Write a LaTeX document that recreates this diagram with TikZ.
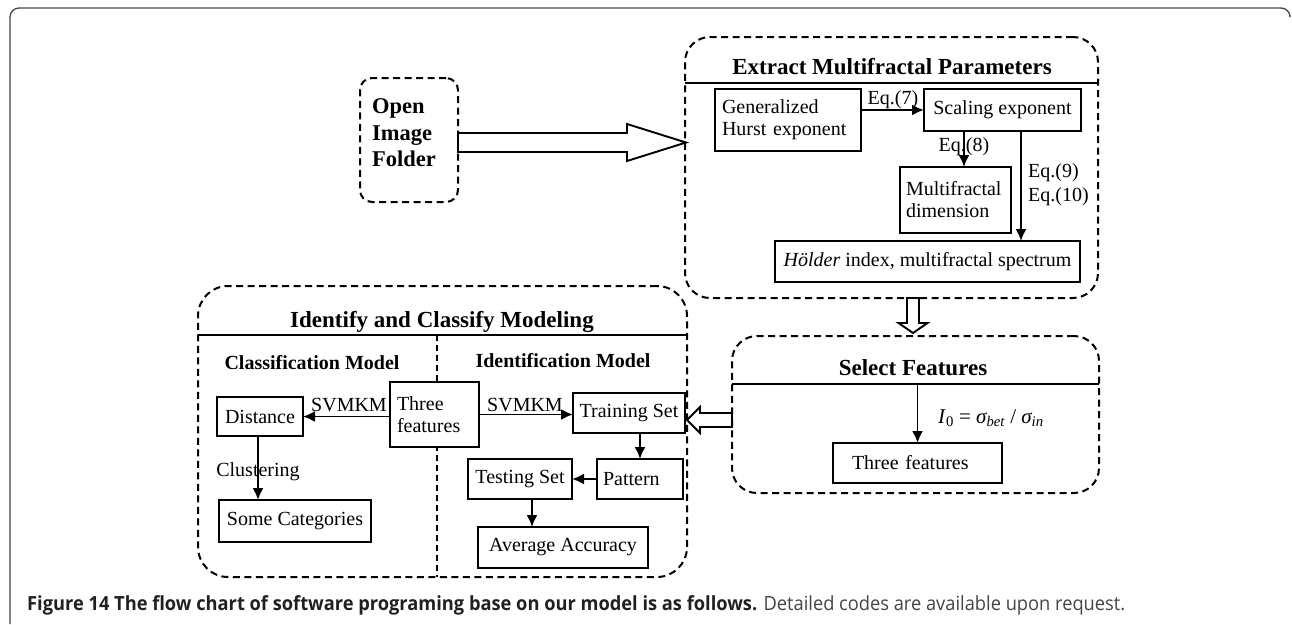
\documentclass[tikz,border=0pt]{standalone}
\usepackage{fontspec}
\usepackage{graphicx}
\setmainfont{Liberation Serif}
\newfontfamily\capfont{Open Sans}
\usetikzlibrary{arrows.meta,calc}
\definecolor{capgray}{HTML}{444444}
\definecolor{capdark}{HTML}{231F20}
\begin{document}
\begin{tikzpicture}[x=1pt,y=-1pt,
  box/.style={draw, line width=1.9pt, inner sep=0pt, outer sep=0pt, anchor=north west,
     font=\fontsize{20}{22}\selectfont},
  dbox/.style={draw, dash pattern=on 7pt off 4.5pt, line width=2pt, inner sep=0pt, outer sep=0pt, anchor=north west},
  arr/.style={line width=1.9pt, -{Latex[length=12pt,width=11pt]}},
  hollow/.style={draw, line width=1.9pt, fill=white, line join=miter},
  title/.style={font=\fontsize{23}{26}\selectfont\bfseries, inner sep=0pt},
  subtitle/.style={font=\fontsize{20}{22}\selectfont\bfseries, inner sep=0pt},
  lbl/.style={font=\fontsize{20}{24}\selectfont, inner sep=0pt}
]
\useasboundingbox (0,0) rectangle (1292,624);
% outer frame
\draw[line width=1.3pt, color=capgray, rounded corners=9pt] (10,624) -- (10,8) -- (1290,8) -- (1290,15);

% containers
\node[dbox, rounded corners=12pt, minimum width=98pt, minimum height=124pt] (open) at (360,78) {};
\node[anchor=north west, align=left, inner sep=0pt, font=\fontsize{22.5}{26.5}\selectfont\bfseries] (openT) at (372,98.5) {Open\\Image\\Folder};

\node[dbox, rounded corners=25pt, minimum width=413pt, minimum height=261pt] (extract) at (685,37) {};
\node[dbox, rounded corners=25pt, minimum width=367pt, minimum height=157pt] (select) at (732,336) {};
\node[dbox, rounded corners=30pt, minimum width=489pt, minimum height=291pt] (identify) at (198,286) {};

% title rules
\draw[line width=1.9pt] ($(extract.north west)+(0,46)$) -- ($(extract.north east)+(0,46)$);
\draw[line width=1.9pt] ($(select.north west)+(0,48)$) -- ($(select.north east)+(0,48)$);
\draw[line width=1.9pt] ($(identify.north west)+(0,49)$) coordinate (idl) -- ($(identify.north east)+(0,49)$);
\coordinate (divtop) at ($(idl)+(239,0)$);
\draw[dash pattern=on 6pt off 4pt, line width=1.6pt] (divtop) -- (divtop |- identify.south);

% titles
\node[title] (tExtract) at (892,67) {Extract Multifractal Parameters};
\node[title] (tSelect) at (913,368) {Select Features};
\node[title] (tIdentify) at (442,322) {Identify and Classify Modeling};
\node[subtitle] (tClass) at (312,363) {Classification Model};
\node[subtitle] (tIdent) at (563,361) {Identification Model};

% extract boxes
\node[box, minimum width=146pt, minimum height=62pt, text width=132pt, align=left] (hurst) at (715,89) {Generalized\\Hurst exponent};
\node[box, minimum width=157pt, minimum height=42pt] (scaling) at (924,89) {Scaling exponent};
\node[box, minimum width=111pt, minimum height=66pt, text width=99pt, align=left] (mfd) at (900,167) {Multifractal\\dimension};
\node[box, minimum width=305pt, minimum height=41pt] (holder) at (775,241) {\textit{Hölder} index, multifractal spectrum};

% select box
\node[box, minimum width=169pt, minimum height=40pt, text width=131pt, align=left] (tf2) at (833,443) {Three features};

% identify boxes
\node[box, fill=white, minimum width=89pt, minimum height=65pt, text width=75pt, align=left] (tf1) at (390,382) {Three\\features};
\node[box, minimum width=86pt, minimum height=39pt] (dist) at (217,397) {Distance};
\node[box, minimum width=152pt, minimum height=42pt] (cats) at (219,500) {Some Categories};
\node[box, minimum width=112pt, minimum height=40pt] (train) at (573,393) {Training Set};
\node[box, minimum width=86pt, minimum height=40pt, text width=74pt, align=left] (pattern) at (597,459) {Pattern};
\node[box, minimum width=104pt, minimum height=40pt] (test) at (468,459) {Testing Set};
\node[box, minimum width=170pt, minimum height=41pt] (avg) at (478,527) {Average Accuracy};

% arrows in extract
\draw[arr] (hurst.east |- scaling.west) -- (scaling.west);
\coordinate (e8) at ($(mfd.north)+(8.5,0)$);
\draw[arr] (scaling.south -| e8) -- (e8);
\coordinate (e9) at (1021,0);
\draw[arr] (scaling.south -| e9) -- (holder.north -| e9);
\node[lbl] (l7) at (893,100) {Eq.(7)};
\node[lbl] (l8) at (964,147) {Eq.(8)};
\node[lbl, anchor=west, align=left] (l9) at (1028,185) {Eq.(9)\\Eq.(10)};

% select arrow
\coordinate (selline) at ($(select.north west)+(0,48)$);
\draw[arr] (tf2.north |- selline) -- (tf2.north);
\node[lbl, anchor=west, font=\fontsize{21}{24}\selectfont] (lI) at (938,418) {\textit{I}\textsubscript{0} = \textit{σ\textsubscript{bet}} / \textit{σ\textsubscript{in}}};

% identify arrows
\draw[arr] (tf1.west |- dist.east) -- (dist.east);
\draw[arr] (tf1.east) -- (tf1.east -| train.west);
\coordinate (cl) at ($(dist.south)+(-2,0)$);
\draw[arr] (cl) -- (cl |- cats.north);
\draw[arr] (train.south -| pattern.north) -- (pattern.north);
\draw[arr] (pattern.west) -- (test.east);
\coordinate (ta) at ($(test.south)+(12,0)$);
\draw[arr] (ta) -- (ta |- avg.north);
\node[lbl] (s1) at (349,405) {SVMKM};
\node[lbl] (s2) at (525,405) {SVMKM};
\node[lbl] (cl1) at (258,472) {Clustering};

% hollow arrows
\coordinate (ra) at ($(open.east)+(0,2.5)$);
\draw[hollow] ($(ra)+(0,-9.5)$) -- ++(169,0) -- ++(0,-9) -- ++(59,18.5) -- ++(-59,18.5) -- ++(0,-9) -- ++(-169,0) -- cycle;
\coordinate (da) at (extract.south -| 913,0);
\draw[hollow] ($(da)+(-6,0)$) -- ++(0,25) -- ++(-8.5,0) -- ++(14.5,10) -- ++(14.5,-10) -- ++(-8.5,0) -- ++(0,-25) -- cycle;
\coordinate (la) at ($(select.west)+(0,5.5)$);
\draw[hollow] ($(la)+(0,-7)$) -- ++(-32,0) -- ++(0,-6) -- ++(-13,13) -- ++(13,13) -- ++(0,-6) -- ++(32,0) -- cycle;

% caption
\node[anchor=west, inner sep=0pt] (cap) at (27,605) {\resizebox{1098pt}{\height}{\capfont\fontsize{19.5}{22}\selectfont\textcolor{capdark}{\bfseries Figure 14 The flow chart of software programing base on our model is as follows.} \textcolor{capgray}{Detailed codes are available upon request.}}};
\end{tikzpicture}
\end{document}
